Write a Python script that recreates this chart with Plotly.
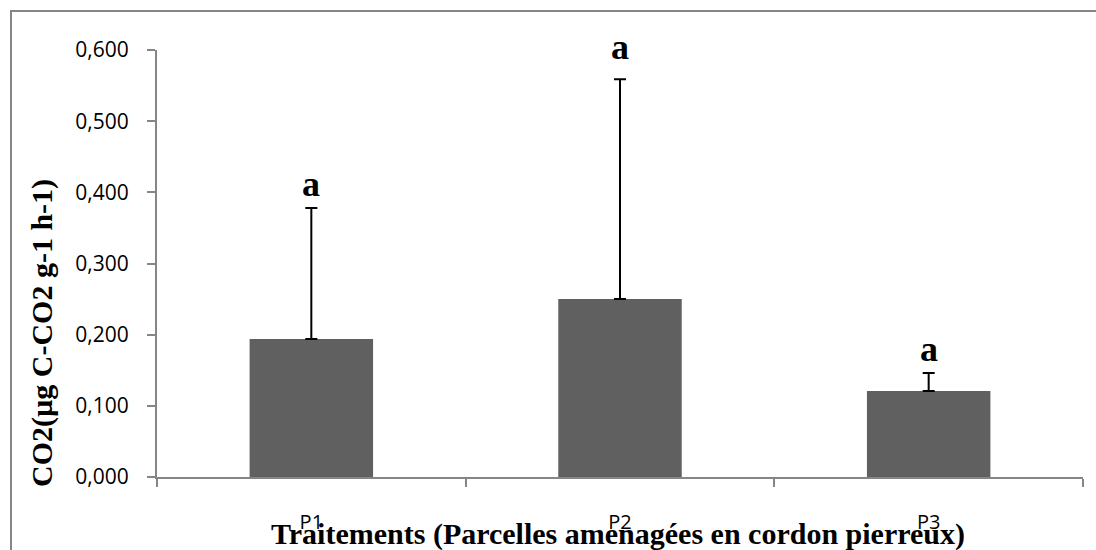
import plotly.graph_objects as go

# Soil CO2 respiration per treatment (mean and upper standard deviation)
treatments = ["P1", "P2", "P3"]
co2_mean = [0.194, 0.250, 0.121]
co2_sd = [0.184, 0.309, 0.025]
letters = ["a", "a", "a"]
tick_vals = [0.0, 0.1, 0.2, 0.3, 0.4, 0.5, 0.6]
tick_text = ["0,000", "0,100", "0,200", "0,300", "0,400", "0,500", "0,600"]

W, H = 1096, 550
L, R, T, B = 157, 13, 50, 73
pw, ph = W - L - R, H - T - B


def px_x(x):
    return (x - L) / pw


def px_y(y):
    return (H - B - y) / ph


axis_grey = "#868686"

fig = go.Figure()
fig.add_trace(go.Bar(
    x=treatments,
    y=co2_mean,
    marker=dict(color="#606060", line=dict(width=0)),
    width=0.4,
    error_y=dict(type="data", array=co2_sd, arrayminus=[0] * len(co2_sd),
                 symmetric=False, color="black", thickness=2, width=6),
    showlegend=False,
    hoverinfo="skip",
))

# significance letters above each error bar
letter_shift = [2, 10, 2]
for cat, m, s, lab, dy in zip(treatments, co2_mean, co2_sd, letters, letter_shift):
    fig.add_annotation(x=cat, y=m + s, text=f"<b>{lab}</b>", showarrow=False,
                       xref="x", yref="y", yanchor="bottom", yshift=dy,
                       font=dict(family="Liberation Serif", size=36, color="black"))

# axis titles
fig.add_annotation(text="<b>Traitements (Parcelles amenagées en cordon pierreux)</b>",
                   x=px_x(618), y=px_y(534), xref="paper", yref="paper",
                   xanchor="center", yanchor="middle", showarrow=False,
                   font=dict(family="Liberation Serif", size=30, color="black"))
fig.add_annotation(text="<b>CO2(µg C-CO2 g-1 h-1)</b>",
                   x=px_x(42), y=px_y(333), xref="paper", yref="paper",
                   xanchor="center", yanchor="middle", textangle=-90, showarrow=False,
                   font=dict(family="Liberation Serif", size=30, color="black"))

# chart frame
fig.add_shape(type="rect", xref="paper", yref="paper",
              x0=px_x(11), x1=px_x(1102), y0=px_y(560), y1=px_y(11),
              line=dict(color=axis_grey, width=2), fillcolor="rgba(0,0,0,0)")

fig.update_layout(
    width=W, height=H,
    margin=dict(l=L, r=R, t=T, b=B, pad=0),
    paper_bgcolor="white", plot_bgcolor="white",
    bargap=0.6,
)
fig.update_xaxes(
    type="category", showline=True, linecolor=axis_grey, linewidth=2,
    ticks="outside", tickson="boundaries", ticklen=8, tickcolor=axis_grey, tickwidth=2,
    showgrid=False, zeroline=False,
    tickfont=dict(family="Open Sans", size=20, color="black"),
    ticklabelstandoff=26,
)
fig.update_yaxes(
    range=[0, 0.6], tickvals=tick_vals, ticktext=tick_text,
    showline=True, linecolor=axis_grey, linewidth=2,
    ticks="outside", ticklen=8, tickcolor=axis_grey, tickwidth=2,
    showgrid=False, zeroline=False,
    tickfont=dict(family="Open Sans", size=21, color="black"),
    ticklabelstandoff=14,
)

fig.write_html("out.html")
